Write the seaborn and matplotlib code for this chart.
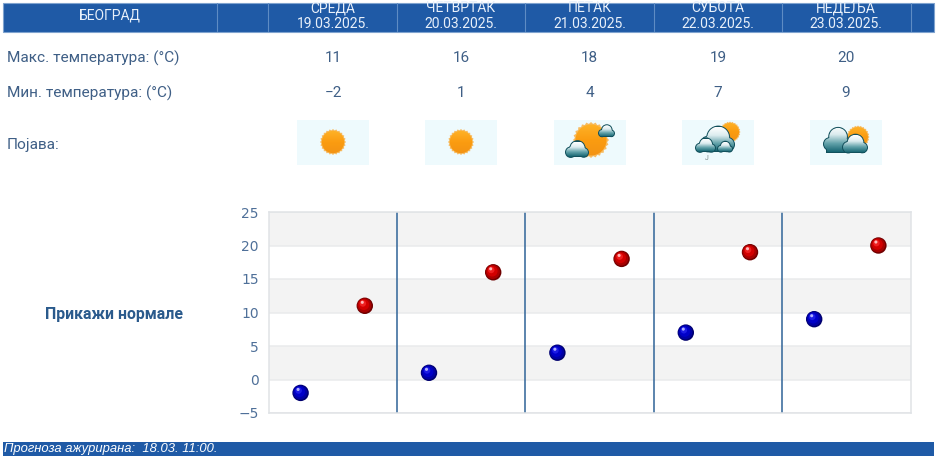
import numpy as np
import pandas as pd
import seaborn as sns
import matplotlib
matplotlib.use('Agg')
import matplotlib.pyplot as plt
from matplotlib.patches import Circle, Rectangle, Polygon
from matplotlib.path import Path
from matplotlib.colors import LinearSegmentedColormap
from matplotlib.transforms import Affine2D, ScaledTranslation

city = 'БЕОГРАД'
days = ['СРЕДА', 'ЧЕТВРТАК', 'ПЕТАК', 'СУБОТА', 'НЕДЕЉА']
dates = ['19.03.2025.', '20.03.2025.', '21.03.2025.', '22.03.2025.', '23.03.2025.']
max_temp = [11, 16, 18, 19, 20]
min_temp = [-2, 1, 4, 7, 9]
row_labels = ['Макс. температура: (°C)', 'Мин. температура: (°C)', 'Појава:']
y_ticks = [-5, 0, 5, 10, 15, 20, 25]
normals_label = 'Прикажи нормале'
footer_text = 'Прогноза ажурирана:  18.03. 11:00.'

W, H = 940, 459
BLUE = '#1f5aa6'
TEXT = '#3f5f86'

sns.set_theme(style='white')
plt.rcParams['font.family'] = ['Roboto', 'DejaVu Sans']

fig = plt.figure(figsize=(W / 100, H / 100), dpi=100)

# chart area first, the page furniture goes on an overlay in pixel coords
ax = fig.add_axes([268.5 / W, (H - 413) / H, 642 / W, 201 / H])

# every day has two slots: min then max
df = pd.DataFrame({
    'slot': [2 * i for i in range(5)] + [2 * i + 1 for i in range(5)],
    'temp': min_temp + max_temp,
    'kind': ['min'] * 5 + ['max'] * 5,
})

for low in [20, 10, 0]:
    ax.axhspan(low, low + 5, color='#f3f3f3', lw=0, zorder=0)
for y in y_ticks:
    ax.axhline(y, color='#e9ebec', lw=1.1, zorder=1)
for i in range(1, 5):
    ax.axvline(2 * i - 0.5, color='#3f6f9f', lw=1.2, zorder=2)


# shiny balls: outer dark ring, body, then highlights shifted up-left
def ball_layer(size, palette, dx=0.0, dy=0.0, z=3):
    offset = ScaledTranslation(dx / 72, dy / 72, fig.dpi_scale_trans)
    sns.scatterplot(data=df, x='slot', y='temp', hue='kind', palette=palette,
                    s=size, linewidth=0, legend=False, ax=ax, zorder=z,
                    clip_on=False, transform=ax.transData + offset)


ball_layer(140, {'min': '#00006e', 'max': '#700000'})
ball_layer(105, {'min': '#0000a4', 'max': '#a80000'}, -0.3, 0.3)
ball_layer(60, {'min': '#0000c8', 'max': '#d20000'}, -0.7, 0.8)
ball_layer(22, {'min': '#1c1ce4', 'max': '#ee2020'}, -1.4, 1.7)
ball_layer(5, {'min': '#b0b0ff', 'max': '#ffb8b8'}, -1.8, 2.5)

ax.set_xlim(-0.5, 9.5)
ax.set_ylim(-5, 25)
ax.set_xticks([])
ax.set_yticks(y_ticks)
ax.set_xlabel('')
ax.set_ylabel('')
ax.tick_params(axis='y', length=0, pad=7, labelsize=10, labelcolor='#4f7099')
for label in ax.get_yticklabels():
    label.set_family('DejaVu Sans')
for spine in ax.spines.values():
    spine.set_color('#e0e3e6')
    spine.set_linewidth(1.1)

ov = fig.add_axes([0, 0, 1, 1], facecolor='none')
ov.set_xlim(0, W)
ov.set_ylim(H, 0)
ov.axis('off')

# header bar
ov.add_patch(Rectangle((3, 2.5), 931, 29, fc=BLUE, ec='#7fa3cf', lw=0.8))
for x in [217, 268, 397, 525, 654, 782, 911]:
    ov.plot([x, x], [3, 31], color='#5e8cc4', lw=0.8)
ov.text(110, 16, city, color='#e8f0fa', fontsize=10, ha='center', va='center')

centers = [333, 461, 589.5, 718, 846]
for cx, day, date, hi, lo in zip(centers, days, dates, max_temp, min_temp):
    ov.text(cx, 8.5, day, color='#e8f0fa', fontsize=10, ha='center', va='center')
    ov.text(cx, 24.5, date, color='#e8f0fa', fontsize=10, ha='center', va='center')
    ov.text(cx, 58, str(hi), color=TEXT, fontsize=11, ha='center', va='center')
    ov.text(cx, 93, str(lo).replace('-', '−'), color=TEXT, fontsize=11,
            ha='center', va='center')

for y, label in zip([58, 93, 145], row_labels):
    ov.text(7, y, label, color=TEXT, fontsize=11.1, ha='left', va='center')

ov.text(114, 314, normals_label, color='#2a5a8c', fontsize=11.4,
        fontweight='bold', ha='center', va='center')

# footer bar
ov.add_patch(Rectangle((3, 442), 931, 14, fc=BLUE, lw=0))
ov.text(4, 449, footer_text, color='white', fontsize=9.4, style='italic',
        family='Liberation Sans', ha='left', va='center')

# weather icons
sun_cmap = LinearSegmentedColormap.from_list('sun', ['#ffb52a', '#fb9c10', '#f29214'])
cloud_cmap = LinearSegmentedColormap.from_list('cloud', ['#ffffff', '#dcecef', '#5fa0a8', '#0f5f6c'])


def fill_gradient(path, cmap, x0, x1, y0, y1, z):
    img = ov.imshow(np.linspace(0, 1, 64).reshape(-1, 1), cmap=cmap,
                    extent=[x0, x1, y1, y0], aspect='auto', zorder=z)
    img.set_clip_path(path, transform=ov.transData)


def draw_sun(cx, cy, r, z=5):
    angles = np.linspace(0, 2 * np.pi, 48, endpoint=False)
    radii = np.where(np.arange(48) % 2 == 0, r, r * 0.9)
    pts = np.column_stack([cx + radii * np.cos(angles), cy + radii * np.sin(angles)])
    ov.add_patch(Polygon(pts, fc='#f7bb60', lw=0, zorder=z))
    fill_gradient(Path.circle((cx, cy), r * 0.86), sun_cmap, cx - r, cx + r,
                  cy - r, cy + r, z + 0.1)


def draw_cloud(x0, x1, y0, y1, z=7):
    # circles given relative to the box of the cloud
    w, h = x1 - x0, y1 - y0
    bumps = [(0.24, 0.68, 0.24), (0.52, 0.42, 0.34), (0.78, 0.70, 0.22)]
    ov.add_patch(Rectangle((x0 + 0.12 * w, y0 + 0.7 * h), 0.76 * w, 0.3 * h,
                           fc='#12505c', lw=0, zorder=z))
    paths = []
    for bx, by, br in bumps:
        c = (x0 + bx * w, y0 + by * h)
        ov.add_patch(Circle(c, br * w, fc='#12505c', lw=0, zorder=z))
        paths.append(Path.circle(c, br * w - 1))
    paths.append(Path.unit_rectangle().transformed(
        Affine2D().scale(0.72 * w, 0.3 * h - 1).translate(x0 + 0.14 * w, y0 + 0.7 * h)))
    fill_gradient(Path.make_compound_path(*paths), cloud_cmap, x0, x1, y0, y1, z + 0.1)


for cx in centers:
    ov.add_patch(Rectangle((cx - 36, 120), 72, 45, fc='#eefafd', lw=0, zorder=4))

draw_sun(333, 142, 13)
draw_sun(461, 142, 13)

draw_sun(591, 140, 18)
draw_cloud(598, 615, 125, 137)
draw_cloud(565, 589, 142, 157)

draw_sun(730, 132, 10.5)
draw_cloud(700, 735, 127, 152)
draw_cloud(695, 716, 139, 152, z=8)
draw_cloud(717, 733, 142, 152, z=8)
ov.text(707, 158, 'J', color='#7a8a8a', fontsize=5, ha='center', va='center', zorder=6)

draw_sun(858, 137, 11.5)
draw_cloud(823, 852, 125, 153)
draw_cloud(842, 868, 135, 153, z=8)

ov.set_xlim(0, W)
ov.set_ylim(H, 0)

fig.savefig('out.png', dpi=100)
